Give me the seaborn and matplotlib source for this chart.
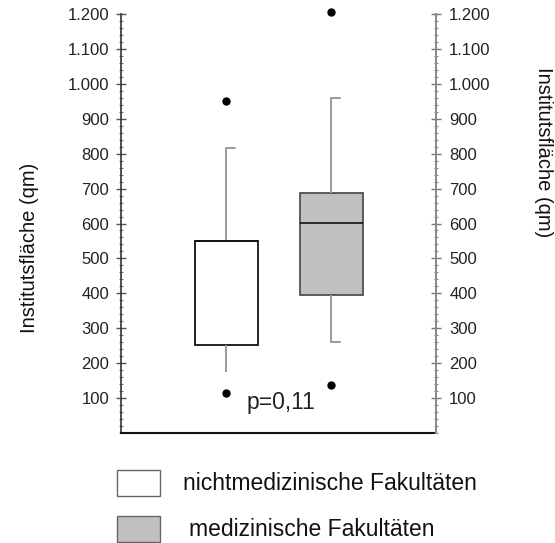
import matplotlib
matplotlib.use("Agg")
import matplotlib.pyplot as plt
from matplotlib.patches import Rectangle
from matplotlib.ticker import MultipleLocator
import pandas as pd
import seaborn as sns

# ---- data ----
groups = ["nichtmedizinische Fakultäten", "medizinische Fakultäten"]
box_colors = ["#ffffff", "#c0c0c0"]
lower_outlier = [115, 138]
whisker_low = [175, 261]
q1 = [252, 395]
median = [550, 601]
q3 = [550, 687]
whisker_high = [815, 960]
upper_outlier = [952, 1205]
ytick_values = [100, 200, 300, 400, 500, 600, 700, 800, 900, 1000, 1100, 1200]
ytick_labels = ["100", "200", "300", "400", "500", "600", "700", "800",
                "900", "1.000", "1.100", "1.200"]
axis_label = "Institutsfläche (qm)"
p_text = "p=0,11"

# dataset reproducing the five-number summaries + outliers
rows = []
for i, g in enumerate(groups):
    vals = [lower_outlier[i], whisker_low[i], q1[i], q1[i], median[i],
            median[i], q3[i], whisker_high[i], upper_outlier[i]]
    for v in vals:
        rows.append({"Gruppe": g, "Fläche": v})
df = pd.DataFrame(rows)

sns.set_theme(style="white")
plt.rcParams["font.family"] = ["Liberation Sans", "DejaVu Sans"]

fig = plt.figure(figsize=(5.55, 5.43), dpi=100)
ax = fig.add_axes([121 / 555, 110 / 543, 315 / 555, 419 / 543])

sns.boxplot(data=df, x="Gruppe", y="Fläche", hue="Gruppe", order=groups,
            hue_order=groups, palette=dict(zip(groups, box_colors)),
            width=0.6, whis=(12.5, 87.5), legend=False, ax=ax,
            linewidth=1.2, fliersize=5)

edge_cols = ["#111111", "#505050"]
for i, cont in enumerate(ax.containers):
    for b in cont.boxes:
        b.set_edgecolor(edge_cols[i])
        b.set_linewidth(1.3)
    for w in cont.whiskers:
        w.set_color("#999999")
        w.set_linewidth(1.4)
    for m in cont.medians:
        m.set_color("#111111")
        m.set_linewidth(1.2)
    for k, c in enumerate(cont.caps):
        xd = c.get_xdata()
        xc = (xd[0] + xd[1]) / 2
        c.set_xdata([xc, xc + 0.09])
        c.set_color("#999999")
        c.set_linewidth(1.4)
        if i == 0 and k == 0:
            c.set_visible(False)
    for f in cont.fliers:
        f.set_marker("o")
        f.set_markerfacecolor("black")
        f.set_markeredgecolor("black")
        f.set_markersize(5)
        f.set_clip_on(False)

ax.set_xlim(-1, 2)
ax.set_ylim(0, 1200)
ax.set_xlabel("")
ax.set_ylabel("")
ax.set_xticks([0, 1])
ax.set_xticklabels(["", ""])
ax.tick_params(axis="x", direction="out", length=2, color="#d0d0d0", width=0.8)

ax.set_yticks(ytick_values)
ax.set_yticklabels(ytick_labels, fontsize=12, color="#222222")
ax.yaxis.set_minor_locator(MultipleLocator(20))
ax.tick_params(axis="y", which="major", direction="inout", length=7,
               width=1, color="#555555", pad=5, left=True)
ax.tick_params(axis="y", which="minor", direction="inout", length=3,
               width=0.8, color="#777777", left=True)

ax.spines["top"].set_visible(False)
ax.spines["left"].set_color("#333333")
ax.spines["left"].set_linewidth(1.2)
ax.spines["bottom"].set_color("#111111")
ax.spines["bottom"].set_linewidth(1.5)
ax.spines["right"].set_visible(False)

ax2 = ax.twinx()
ax2.set_ylim(0, 1200)
ax2.set_yticks(ytick_values)
ax2.set_yticklabels(ytick_labels, fontsize=12, color="#222222")
ax2.yaxis.set_minor_locator(MultipleLocator(20))
ax2.tick_params(axis="y", which="major", direction="inout", length=7,
                width=1, color="#777777", pad=6, right=True)
ax2.tick_params(axis="y", which="minor", direction="inout", length=3,
                width=0.8, color="#888888", right=True)
for s in ["top", "left", "bottom"]:
    ax2.spines[s].set_visible(False)
ax2.spines["right"].set_color("#888888")
ax2.spines["right"].set_linewidth(1.4)
ax2.grid(False)

ax.text(0.52, 87, p_text, ha="center", va="center", fontsize=16.5,
        color="#222222")

fig.text(30 / 555, 1 - 248 / 543, axis_label, rotation=90, ha="center",
         va="center", fontsize=14.5, color="#111111")
fig.text(543 / 555, 1 - 152 / 543, axis_label, rotation=270, ha="center",
         va="center", fontsize=14.5, color="#111111")

# legend
leg_y = [470, 516]
leg_text_x = [183, 189]
for i, g in enumerate(groups):
    fig.add_artist(Rectangle((117 / 555, 1 - (leg_y[i] + 26) / 543),
                             43 / 555, 26 / 543, transform=fig.transFigure,
                             facecolor=box_colors[i], edgecolor="#666666",
                             linewidth=1.0))
    fig.text(leg_text_x[i] / 555, 1 - (leg_y[i] + 13) / 543, g,
             ha="left", va="center", fontsize=16.5, color="#111111")

fig.savefig("out.png", dpi=100)
